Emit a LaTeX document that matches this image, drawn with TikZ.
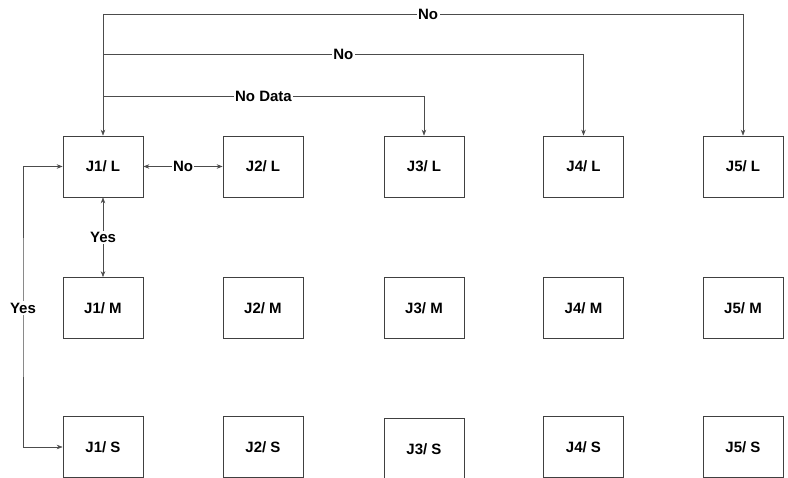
\documentclass[tikz,border=0pt]{standalone}
\usepackage{fontspec}
\setmainfont{Liberation Sans}
\usetikzlibrary{arrows.meta}
\begin{document}
\begin{tikzpicture}[x=1pt,y=-1pt,
  box/.style={draw=black!75,line width=0.7pt,minimum width=80pt,minimum height=61pt,inner sep=0pt,font=\fontsize{15}{18}\selectfont\bfseries},
  conn/.style={draw=black!70,line width=0.6pt},
  arr/.style={conn,-{Stealth[length=6pt,width=4.5pt]}},
  darr/.style={conn,{Stealth[length=6pt,width=4.5pt]}-{Stealth[length=6pt,width=4.5pt]}},
  lbl/.style={fill=white,inner sep=1.5pt,font=\fontsize{15}{18}\selectfont\bfseries}]
\useasboundingbox (0,0) rectangle (788,478);
% boxes
\node[box] (J1L) at (103,166.5) {J1/ L};
\node[box] (J2L) at (263,166.5) {J2/ L};
\node[box] (J3L) at (424,166.5) {J3/ L};
\node[box] (J4L) at (583.5,166.5) {J4/ L};
\node[box] (J5L) at (743,166.5) {J5/ L};
\node[box] (J1M) at (103,308) {J1/ M};
\node[box] (J2M) at (263,308) {J2/ M};
\node[box] (J3M) at (424,308) {J3/ M};
\node[box] (J4M) at (583.5,308) {J4/ M};
\node[box] (J5M) at (743,308) {J5/ M};
\node[box] (J1S) at (103,447) {J1/ S};
\node[box] (J2S) at (263,447) {J2/ S};
\node[box] (J3S) at (424,449) {J3/ S};
\node[box] (J4S) at (583.5,447) {J4/ S};
\node[box] (J5S) at (743,447) {J5/ S};
% top connectors
\coordinate (c0) at (103,14);
\coordinate (c1) at (103,54);
\coordinate (c2) at (103,96);
\draw[arr] (c0) -- (J1L.north);
\draw[arr] (c0) -| node[lbl,pos=0.254] {No} (J5L.north);
\draw[arr] (c1) -| node[lbl,pos=0.25] {No} (J4L.north);
\draw[arr] (c2) -| node[lbl,pos=0.25] {No Data} (J3L.north);
% J1/L <-> J2/L
\draw[darr] (J1L.east) -- node[lbl] {No} (J2L.west);
% J1/L <-> J1/M
\draw[darr] (J1L.south) -- node[lbl] {Yes} (J1M.north);
% outer Yes
\coordinate (yl) at (23,308);
\draw[darr] (J1L.west) -| (yl) |- (J1S.west);
\node[lbl] (yes2) at (yl) {Yes};
\end{tikzpicture}
\end{document}
